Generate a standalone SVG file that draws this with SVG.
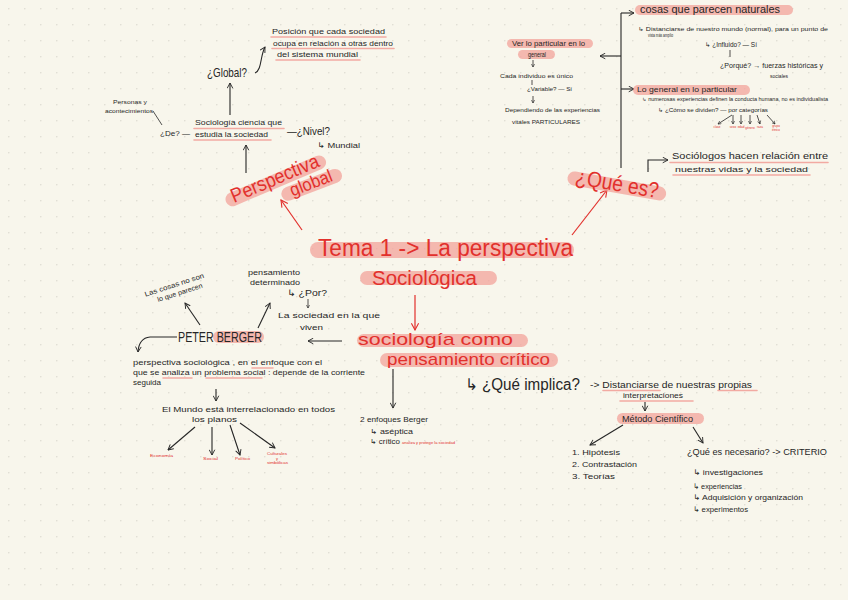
<svg xmlns="http://www.w3.org/2000/svg" width="848" height="600" viewBox="0 0 848 600">
<defs>
<pattern id="dots" x="8" y="8" width="16" height="16" patternUnits="userSpaceOnUse"><circle cx="0.8" cy="0.8" r="0.8" fill="#dcdad0"/></pattern>
<marker id="ak" viewBox="0 0 10 10" refX="8.5" refY="5" markerWidth="7" markerHeight="7" markerUnits="userSpaceOnUse" orient="auto"><path d="M1,1 L8.5,5 L1,9" fill="none" stroke="#262626" stroke-width="1.3"/></marker>
<marker id="aks" viewBox="0 0 10 10" refX="8.5" refY="5" markerWidth="4" markerHeight="4" markerUnits="userSpaceOnUse" orient="auto"><path d="M1,1 L8.5,5 L1,9" fill="none" stroke="#262626" stroke-width="1.5"/></marker>
<marker id="ar" viewBox="0 0 10 10" refX="8.5" refY="5" markerWidth="9" markerHeight="9" markerUnits="userSpaceOnUse" orient="auto"><path d="M1,1 L8.5,5 L1,9" fill="none" stroke="#e2302c" stroke-width="1.2"/></marker>
<style>
text{font-family:"Liberation Sans","DejaVu Sans",sans-serif;fill:#262626;}
.r{fill:#e2302c;}
.hl{fill:#f3a39b;opacity:0.75;}
.ul{stroke:#f2aaa2;stroke-width:1.6;fill:none;stroke-linecap:round;}
.ck{stroke:#262626;stroke-width:1.1;fill:none;}
.cks{stroke:#262626;stroke-width:0.8;fill:none;}
.cr{stroke:#e2302c;stroke-width:1.2;fill:none;}
</style>
</defs>
<rect width="848" height="600" fill="#f8f6ec"/>
<rect width="848" height="600" fill="url(#dots)"/>

<g id="connectors">
<path class="ck" d="M255,73 C262,70 260,56 265,47" marker-end="url(#ak)"/>
<path class="ck" d="M230,115 L230,83" marker-end="url(#ak)"/>
<path class="cks" d="M153,111 L162,125"/>
<path class="ck" d="M246,173 L246,145" marker-end="url(#ak)"/>
<path class="cr" d="M302,230 L281,200" marker-end="url(#ar)"/>
<path class="cr" d="M572,235 L607,190" marker-end="url(#ar)"/>
<path class="cr" d="M415,295 L415,330" marker-end="url(#ar)"/>
<path class="ck" d="M342,341 L308,341" marker-end="url(#ak)"/>
<path class="ck" d="M200,325 L185,303" marker-end="url(#ak)"/>
<path class="ck" d="M258,328 L270,303" marker-end="url(#ak)"/>
<path class="cks" d="M308,299 L308,308" marker-end="url(#aks)"/>
<path class="ck" d="M177,337 L150,337 Q139,338 138,352" marker-end="url(#ak)"/>
<path class="ck" d="M216,389 L216,401" marker-end="url(#ak)"/>
<path class="ck" d="M195,427 L168,450" marker-end="url(#ak)"/>
<path class="ck" d="M212,427 L212,455" marker-end="url(#ak)"/>
<path class="ck" d="M230,425 L240,455" marker-end="url(#ak)"/>
<path class="ck" d="M240,423 L275,448" marker-end="url(#ak)"/>
<path class="ck" d="M393,369 L393,408" marker-end="url(#ak)"/>
<path class="ck" d="M621,168 L621,13"/>
<path class="ck" d="M621,13 L634,13" marker-end="url(#ak)"/>
<path class="ck" d="M621,56 L600,56" marker-end="url(#ak)"/>
<path class="ck" d="M621,89 L634,89" marker-end="url(#ak)"/>
<path class="ck" d="M648,172 L648,160 L668,160" marker-end="url(#ak)"/>
<path class="cks" d="M533,60 L533,67" marker-end="url(#aks)"/>
<path class="cks" d="M532,80 L532,85"/>
<path class="cks" d="M533,96 L533,103" marker-end="url(#aks)"/>
<path class="cks" d="M730,50 L730,57"/>
<path class="cks" d="M732,115 L718,124" marker-end="url(#aks)"/>
<path class="cks" d="M733,115 L733,124" marker-end="url(#aks)"/>
<path class="cks" d="M741,115 L741,124" marker-end="url(#aks)"/>
<path class="cks" d="M750,115 L750,124" marker-end="url(#aks)"/>
<path class="cks" d="M757,115 L760,124" marker-end="url(#aks)"/>
<path class="cks" d="M767,115 L775,124" marker-end="url(#aks)"/>
<path class="ck" d="M645,402 L645,411" marker-end="url(#ak)"/>
<path class="ck" d="M623,425 L590,445" marker-end="url(#ak)"/>
<path class="ck" d="M693,427 L703,443" marker-end="url(#ak)"/>
</g>

<g id="posicion">
<path class="ul" d="M271,37 L386,37 M272,48.5 L394,48.5 M276,60 L360,60"/>
<text x="272" y="34" font-size="8" textLength="113" lengthAdjust="spacingAndGlyphs">Posición que cada sociedad</text>
<text x="273" y="45.5" font-size="8" textLength="120" lengthAdjust="spacingAndGlyphs">ocupa en relación a otras dentro</text>
<text x="277" y="57" font-size="8" textLength="81" lengthAdjust="spacingAndGlyphs">del sistema mundial</text>
</g>
<g id="global"><text x="207" y="77" font-size="13" textLength="40" lengthAdjust="spacingAndGlyphs">¿Global?</text></g>
<g id="personas">
<text x="113" y="104" font-size="6" textLength="34" lengthAdjust="spacingAndGlyphs">Personas y</text>
<text x="105" y="113" font-size="6" textLength="48" lengthAdjust="spacingAndGlyphs">acontecimientos</text>
</g>
<g id="de"><text x="160" y="136" font-size="8" textLength="30" lengthAdjust="spacingAndGlyphs">¿De? —</text></g>
<g id="sociologia-ciencia">
<path class="ul" d="M194,128.5 L284,128.5 M194,140 L271,140"/>
<text x="195" y="125" font-size="8" textLength="87" lengthAdjust="spacingAndGlyphs">Sociología ciencia que</text>
<text x="195" y="136.5" font-size="8" textLength="73" lengthAdjust="spacingAndGlyphs">estudia la sociedad</text>
</g>
<g id="nivel">
<text x="287" y="135" font-size="10" textLength="43" lengthAdjust="spacingAndGlyphs">—¿Nivel?</text>
<text x="317" y="148" font-size="8" textLength="43" lengthAdjust="spacingAndGlyphs">↳ Mundial</text>
</g>
<g id="perspectiva-global">
<g transform="translate(275,179) rotate(-23)">
<rect class="hl" x="-54" y="-5" width="108" height="14" rx="7"/>
<text class="r" x="0" y="6" font-size="20" text-anchor="middle" textLength="94" lengthAdjust="spacingAndGlyphs">Perspectiva</text>
</g>
<g transform="translate(311,183) rotate(-21)">
<rect class="hl" x="-32" y="-5" width="64" height="14" rx="7"/>
<text class="r" x="0" y="6" font-size="18" text-anchor="middle" textLength="44" lengthAdjust="spacingAndGlyphs">global</text>
</g>
</g>
<g id="tema">
<rect class="hl" x="310" y="242" width="264" height="16" rx="8"/>
<text class="r" x="318" y="256" font-size="23" textLength="255" lengthAdjust="spacingAndGlyphs">Tema 1 -&gt; La perspectiva</text>
<rect class="hl" x="360" y="271" width="137" height="14" rx="7"/>
<text class="r" x="372" y="285" font-size="20" textLength="105" lengthAdjust="spacingAndGlyphs">Sociológica</text>
</g>
<g id="que-es">
<g transform="translate(617,185) rotate(10)">
<rect class="hl" x="-50" y="-6" width="100" height="14" rx="7"/>
<text class="r" x="0" y="6" font-size="22" text-anchor="middle" textLength="84" lengthAdjust="spacingAndGlyphs">¿Qué es?</text>
</g>
</g>
<g id="sociologos">
<path class="ul" d="M670,162.5 L828,162.5 M673,175 L810,175"/>
<text x="672" y="159" font-size="9" textLength="156" lengthAdjust="spacingAndGlyphs">Sociólogos hacen relación entre</text>
<text x="675" y="172" font-size="7.5" textLength="133" lengthAdjust="spacingAndGlyphs">nuestras vidas y la sociedad</text>
</g>
<g id="cosas-naturales">
<rect class="hl" x="635" y="5" width="158" height="10" rx="5"/>
<text x="640" y="13" font-size="10" textLength="140" lengthAdjust="spacingAndGlyphs">cosas que parecen naturales</text>
<text x="638" y="31" font-size="5.5" textLength="190" lengthAdjust="spacingAndGlyphs">↳ Distanciarse de nuestro mundo (normal), para un punto de</text>
<text x="648" y="37" font-size="5" textLength="25" lengthAdjust="spacingAndGlyphs">vista más amplio</text>
<text x="705" y="47" font-size="6.5" textLength="52" lengthAdjust="spacingAndGlyphs">↳ ¿Influido? — Sí</text>
<text x="720" y="68" font-size="6.5" textLength="103" lengthAdjust="spacingAndGlyphs">¿Porqué? → fuerzas históricas y</text>
<text x="770" y="78" font-size="6" textLength="18" lengthAdjust="spacingAndGlyphs">sociales</text>
</g>
<g id="general-particular">
<rect class="hl" x="633" y="85" width="117" height="10" rx="5"/>
<text x="637" y="92" font-size="8" textLength="100" lengthAdjust="spacingAndGlyphs">Lo general en lo particular</text>
<text x="642" y="101" font-size="4.5" textLength="186" lengthAdjust="spacingAndGlyphs">↳ numerosas experiencias definen la conducta humana, no es individualista</text>
<text x="658" y="112" font-size="5.5" textLength="110" lengthAdjust="spacingAndGlyphs">↳ ¿Cómo se dividen? — por categorías</text>
<g font-size="3" text-anchor="middle">
<text class="r" x="717" y="128">clase</text>
<text class="r" x="733" y="128">sexo</text>
<text class="r" x="741" y="128">edad</text>
<text class="r" x="750" y="129">género</text>
<text class="r" x="760" y="128">raza</text>
<text class="r" x="776" y="127">grupo</text>
<text class="r" x="776" y="130.5">étnico</text>
</g>
</g>
<g id="ver-particular">
<rect class="hl" x="507" y="39" width="86" height="9" rx="4.5"/>
<text x="512" y="46" font-size="6.5" textLength="73" lengthAdjust="spacingAndGlyphs">Ver lo particular en lo</text>
<rect class="hl" x="518" y="50" width="37" height="9" rx="4.5"/>
<text x="528" y="57" font-size="6.5" textLength="18" lengthAdjust="spacingAndGlyphs">general</text>
<text x="500" y="78" font-size="6" textLength="73" lengthAdjust="spacingAndGlyphs">Cada individuo es único</text>
<text x="527" y="91" font-size="6" textLength="45" lengthAdjust="spacingAndGlyphs">¿Variable? — Sí</text>
<text x="505" y="112" font-size="6" textLength="95" lengthAdjust="spacingAndGlyphs">Dependiendo de las experiencias</text>
<text x="512" y="124" font-size="6" textLength="68" lengthAdjust="spacingAndGlyphs">vitales PARTICULARES</text>
</g>
<g id="sociologia-critica">
<rect class="hl" x="357" y="334" width="171" height="13" rx="6.5"/>
<text class="r" x="358" y="345" font-size="17" textLength="155" lengthAdjust="spacingAndGlyphs">sociología como</text>
<rect class="hl" x="380" y="353" width="178" height="14" rx="7"/>
<text class="r" x="387" y="365" font-size="17" textLength="163" lengthAdjust="spacingAndGlyphs">pensamiento crítico</text>
</g>
<g id="cosas-no-son">
<g transform="translate(176,290) rotate(-18)">
<text x="0" y="-3" font-size="7" text-anchor="middle" textLength="62" lengthAdjust="spacingAndGlyphs">Las cosas no son</text>
<text x="3" y="6" font-size="7" text-anchor="middle" textLength="47" lengthAdjust="spacingAndGlyphs">lo que parecen</text>
</g>
</g>
<g id="pensamiento-determinado">
<text x="248" y="275" font-size="8" textLength="52" lengthAdjust="spacingAndGlyphs">pensamiento</text>
<text x="250" y="285" font-size="8" textLength="50" lengthAdjust="spacingAndGlyphs">determinado</text>
<text x="287" y="296" font-size="9" textLength="40" lengthAdjust="spacingAndGlyphs">↳ ¿Por?</text>
<text x="278" y="318" font-size="8" textLength="102" lengthAdjust="spacingAndGlyphs">La sociedad en la que</text>
<text x="300" y="330" font-size="8" textLength="23" lengthAdjust="spacingAndGlyphs">viven</text>
</g>
<g id="peter-berger">
<rect class="hl" x="213" y="331" width="51" height="12" rx="6"/>
<text x="178" y="342" font-size="14" textLength="84" lengthAdjust="spacingAndGlyphs">PETER BERGER</text>
</g>
<g id="perspectiva-sociologica">
<path class="ul" d="M252,368 L273,368 M163,378 L192,378 M206,378 L262,378"/>
<text x="133" y="365" font-size="8" textLength="189" lengthAdjust="spacingAndGlyphs">perspectiva sociológica , en el enfoque con el</text>
<text x="133" y="375" font-size="8" textLength="232" lengthAdjust="spacingAndGlyphs">que se analiza un problema social : depende de la corriente</text>
<text x="133" y="385" font-size="8" textLength="28" lengthAdjust="spacingAndGlyphs">seguida</text>
</g>
<g id="mundo-planos">
<text x="162" y="412" font-size="8" textLength="173" lengthAdjust="spacingAndGlyphs">El Mundo está interrelacionado en todos</text>
<text x="192" y="422" font-size="8" textLength="45" lengthAdjust="spacingAndGlyphs">los planos</text>
<g font-size="4">
<text class="r" x="150" y="457" textLength="23" lengthAdjust="spacingAndGlyphs">Economía</text>
<text class="r" x="203" y="460" textLength="15" lengthAdjust="spacingAndGlyphs">Social</text>
<text class="r" x="235" y="460" textLength="15" lengthAdjust="spacingAndGlyphs">Político</text>
<text class="r" x="267" y="455" textLength="20" lengthAdjust="spacingAndGlyphs">Culturales</text>
<text class="r" x="276" y="459.5">y</text>
<text class="r" x="267" y="464" textLength="21" lengthAdjust="spacingAndGlyphs">simbólicas</text>
</g>
</g>
<g id="enfoques">
<text x="360" y="422" font-size="7" textLength="68" lengthAdjust="spacingAndGlyphs">2 enfoques Berger</text>
<text x="370" y="434" font-size="7" textLength="43" lengthAdjust="spacingAndGlyphs">↳ aséptica</text>
<text x="370" y="444" font-size="7" textLength="30" lengthAdjust="spacingAndGlyphs">↳ crítico</text>
<text class="r" x="402" y="443.5" font-size="3.5" textLength="53" lengthAdjust="spacingAndGlyphs">analiza y protege la sociedad</text>
</g>
<g id="que-implica">
<path class="ul" d="M603,390.5 L660,390.5 M718,390.5 L757,390.5 M620,401 L693,401"/>
<text x="465" y="390" font-size="16" textLength="115" lengthAdjust="spacingAndGlyphs">↳ ¿Qué implica?</text>
<text x="590" y="388" font-size="9" textLength="162" lengthAdjust="spacingAndGlyphs">-&gt; Distanciarse de nuestras propias</text>
<text x="623" y="398" font-size="8" textLength="60" lengthAdjust="spacingAndGlyphs">interpretaciones</text>
</g>
<g id="metodo">
<rect class="hl" x="617" y="413" width="87" height="11" rx="5.5"/>
<text x="622" y="422" font-size="9" textLength="71" lengthAdjust="spacingAndGlyphs">Método Científico</text>
</g>
<g id="pasos">
<text x="572" y="455" font-size="8" textLength="48" lengthAdjust="spacingAndGlyphs">1. Hipótesis</text>
<text x="572" y="467" font-size="8" textLength="65" lengthAdjust="spacingAndGlyphs">2. Contrastación</text>
<text x="572" y="479" font-size="8" textLength="43" lengthAdjust="spacingAndGlyphs">3. Teorías</text>
</g>
<g id="criterio">
<text x="687" y="455" font-size="9" textLength="140" lengthAdjust="spacingAndGlyphs">¿Qué es necesario? -&gt; CRITERIO</text>
<text x="693" y="475" font-size="8" textLength="70" lengthAdjust="spacingAndGlyphs">↳ investigaciones</text>
<text x="693" y="489" font-size="8" textLength="49" lengthAdjust="spacingAndGlyphs">↳ experiencias</text>
<text x="693" y="500" font-size="8" textLength="110" lengthAdjust="spacingAndGlyphs">↳ Adquisición y organización</text>
<text x="693" y="512" font-size="8" textLength="55" lengthAdjust="spacingAndGlyphs">↳ experimentos</text>
</g>
</svg>
